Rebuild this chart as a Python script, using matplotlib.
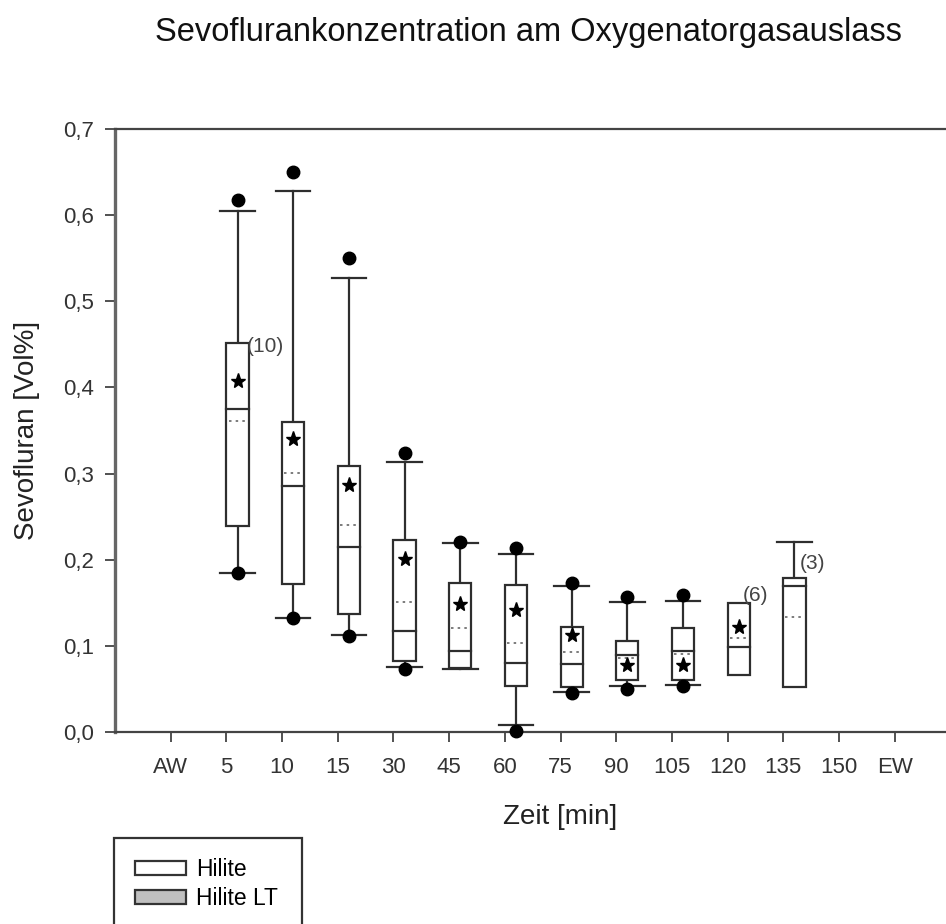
import matplotlib
matplotlib.use("Agg")
import matplotlib.pyplot as plt
from matplotlib.patches import Rectangle, Patch

plt.rcParams["font.family"] = ["Liberation Sans", "DejaVu Sans"]

# categories on the x axis
categories = ["AW", "5", "10", "15", "30", "45", "60", "75", "90", "105", "120", "135", "150", "EW"]

# Hilite box statistics (None = no data / not drawn)
cat_idx = [1, 2, 3, 4, 5, 6, 7, 8, 9, 10, 11]
out_hi = [0.618, 0.650, 0.550, 0.324, 0.221, 0.214, 0.173, 0.157, 0.159, None, None]
cap_hi = [0.605, 0.628, 0.527, 0.314, 0.219, 0.207, 0.169, 0.151, 0.152, None, 0.221]
q3 = [0.452, 0.360, 0.309, 0.223, 0.173, 0.171, 0.122, 0.106, 0.121, 0.150, 0.179]
median = [0.375, 0.285, 0.215, 0.117, 0.094, 0.080, 0.079, 0.089, 0.094, 0.099, 0.169]
mean = [0.361, 0.301, 0.240, 0.151, 0.121, 0.103, 0.093, 0.086, 0.090, 0.109, 0.133]
q1 = [0.239, 0.172, 0.137, 0.083, 0.074, 0.053, 0.052, 0.060, 0.060, 0.066, 0.052]
cap_lo = [0.185, 0.132, 0.113, 0.075, 0.073, 0.008, 0.046, 0.053, 0.055, None, None]
out_lo = [0.184, 0.132, 0.111, 0.073, None, 0.001, 0.045, 0.050, 0.053, None, None]
star = [0.407, 0.340, 0.287, 0.201, 0.149, 0.142, 0.113, 0.078, 0.078, 0.122, None]

# sample size labels
n_text = ["(10)", "(6)", "(3)"]
n_x = [1.37, 10.27, 11.30]
n_y = [0.447, 0.159, 0.196]

fig = plt.figure(figsize=(9.46, 9.24), dpi=100)
ax = fig.add_axes([115 / 946, 192 / 924, 891 / 946, 603 / 924])

line_c = "#2e2e2e"
off = 0.2
half_w = 0.2
cap_half = 0.31

for i, x0 in enumerate(cat_idx):
    x = x0 + off
    # box
    ax.add_patch(Rectangle((x - half_w, q1[i]), 2 * half_w, q3[i] - q1[i],
                           facecolor="white", edgecolor=line_c, linewidth=1.6, zorder=3))
    ax.plot([x - half_w, x + half_w], [median[i]] * 2, color=line_c, lw=1.6, zorder=4)
    ax.plot([x - half_w + 0.04, x + half_w - 0.04], [mean[i]] * 2, color="#666666",
            lw=1.2, ls=(0, (1.5, 2.5)), zorder=4)
    # whiskers and caps
    if cap_hi[i] is not None:
        ax.plot([x, x], [q3[i], cap_hi[i]], color=line_c, lw=1.6, zorder=2)
        ax.plot([x - cap_half, x + cap_half], [cap_hi[i]] * 2, color=line_c, lw=1.6, zorder=2)
    if cap_lo[i] is not None:
        ax.plot([x, x], [q1[i], cap_lo[i]], color=line_c, lw=1.6, zorder=2)
        ax.plot([x - cap_half, x + cap_half], [cap_lo[i]] * 2, color=line_c, lw=1.6, zorder=2)
    # outliers
    for v in (out_hi[i], out_lo[i]):
        if v is not None:
            ax.plot(x, v, "o", color="black", ms=9, zorder=5, clip_on=False)
    if star[i] is not None:
        ax.plot(x, star[i], "*", color="black", ms=11, zorder=6)

for xt, t, yv in zip(n_x, n_text, n_y):
    ax.text(xt, yv, t, fontsize=15, color="#444444", ha="left", va="center")

ax.set_xlim(-1, 15)
ax.set_ylim(0, 0.7)
ax.set_xticks(range(len(categories)))
ax.set_xticklabels(categories, fontsize=16)
ax.set_yticks([0, 0.1, 0.2, 0.3, 0.4, 0.5, 0.6, 0.7])
ax.set_yticklabels(["0,0", "0,1", "0,2", "0,3", "0,4", "0,5", "0,6", "0,7"], fontsize=16)
ax.tick_params(axis="x", direction="out", length=7, width=1.2, pad=11, colors="#333333")
ax.tick_params(axis="y", direction="out", length=7, width=1.2, pad=8, colors="#333333")
for sp in ax.spines.values():
    sp.set_color("#444444")
    sp.set_linewidth(1.6)
ax.spines["left"].set_color("#666666")
ax.spines["left"].set_linewidth(2.4)

ax.set_xlabel("Zeit [min]", fontsize=20, labelpad=19, color="#222222")
ax.set_ylabel("Sevofluran [Vol%]", fontsize=20, labelpad=17, color="#222222")
fig.text(528 / 946, 1 - 33 / 924, "Sevoflurankonzentration am Oxygenatorgasauslass",
         fontsize=23.5, ha="center", va="center", color="#111111")

# legend, frame running off the bottom like the source
fig.patches.append(Rectangle((114 / 946, -0.05), 188 / 946, 0.05 + (924 - 838) / 924,
                             transform=fig.transFigure, facecolor="white",
                             edgecolor="#333333", linewidth=1.6, clip_on=False))
handles = [Patch(facecolor="white", edgecolor="#333333", linewidth=1.6, label="Hilite"),
           Patch(facecolor="#c0c0c0", edgecolor="#333333", linewidth=1.6, label="Hilite LT")]
fig.legend(handles=handles, loc="upper left", bbox_to_anchor=(124 / 946, 1 - 847 / 924),
           frameon=False, fontsize=16.5, handlelength=2.2, handleheight=0.57,
           handletextpad=0.45, labelspacing=0.25, borderpad=0.0)

fig.savefig("out.png", dpi=100)
